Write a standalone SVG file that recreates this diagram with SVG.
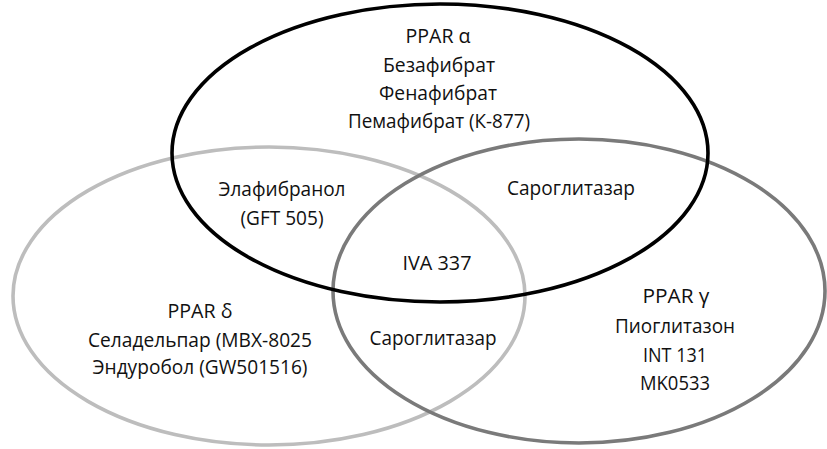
<svg xmlns="http://www.w3.org/2000/svg" width="827" height="449" viewBox="0 0 827 449">
<style>
.c{fill:none;stroke-width:3.6}
.t{font-family:"Open Sans","Noto Sans",sans-serif;font-size:20px;fill:#111;text-anchor:middle}
</style>
<rect width="827" height="449" fill="#fff"/>
<g id="delta"><ellipse class="c" cx="269" cy="296" rx="256" ry="149" stroke="#bdbdbd"/></g>
<g id="gamma"><ellipse class="c" cx="579" cy="291" rx="246" ry="152" stroke="#7a7a7a"/></g>
<g id="alpha"><ellipse class="c" cx="440" cy="153" rx="268" ry="149" stroke="#000"/></g>
<g id="labels">
<g id="alpha-text" class="t">
<text x="438" y="43" textLength="65" lengthAdjust="spacingAndGlyphs">PPAR α</text>
<text x="439" y="72" textLength="112" lengthAdjust="spacingAndGlyphs">Безафибрат</text>
<text x="438" y="100" textLength="118" lengthAdjust="spacingAndGlyphs">Фенафибрат</text>
<text x="439" y="128" textLength="182" lengthAdjust="spacingAndGlyphs">Пемафибрат (К-877)</text>
</g>
<g id="alpha-delta" class="t">
<text x="282" y="196" textLength="127" lengthAdjust="spacingAndGlyphs">Элафибранол</text>
<text x="282" y="225" textLength="83" lengthAdjust="spacingAndGlyphs">(GFT 505)</text>
</g>
<g id="alpha-gamma" class="t"><text x="571" y="195" textLength="128" lengthAdjust="spacingAndGlyphs">Сароглитазар</text></g>
<g id="center" class="t"><text x="437" y="270" textLength="69" lengthAdjust="spacingAndGlyphs">IVA 337</text></g>
<g id="delta-gamma" class="t"><text x="433" y="345" textLength="127" lengthAdjust="spacingAndGlyphs">Сароглитазар</text></g>
<g id="delta-text" class="t">
<text x="200" y="318" textLength="65" lengthAdjust="spacingAndGlyphs">PPAR δ</text>
<text x="200" y="347" textLength="224" lengthAdjust="spacingAndGlyphs">Селадельпар (MBX-8025</text>
<text x="200" y="374" textLength="215" lengthAdjust="spacingAndGlyphs">Эндуробол (GW501516)</text>
</g>
<g id="gamma-text" class="t">
<text x="676" y="303" textLength="67" lengthAdjust="spacingAndGlyphs">PPAR γ</text>
<text x="675" y="333" textLength="120" lengthAdjust="spacingAndGlyphs">Пиоглитазон</text>
<text x="675" y="362" textLength="64" lengthAdjust="spacingAndGlyphs">INT 131</text>
<text x="675" y="390" textLength="70" lengthAdjust="spacingAndGlyphs">MK0533</text>
</g>
</g>
</svg>
